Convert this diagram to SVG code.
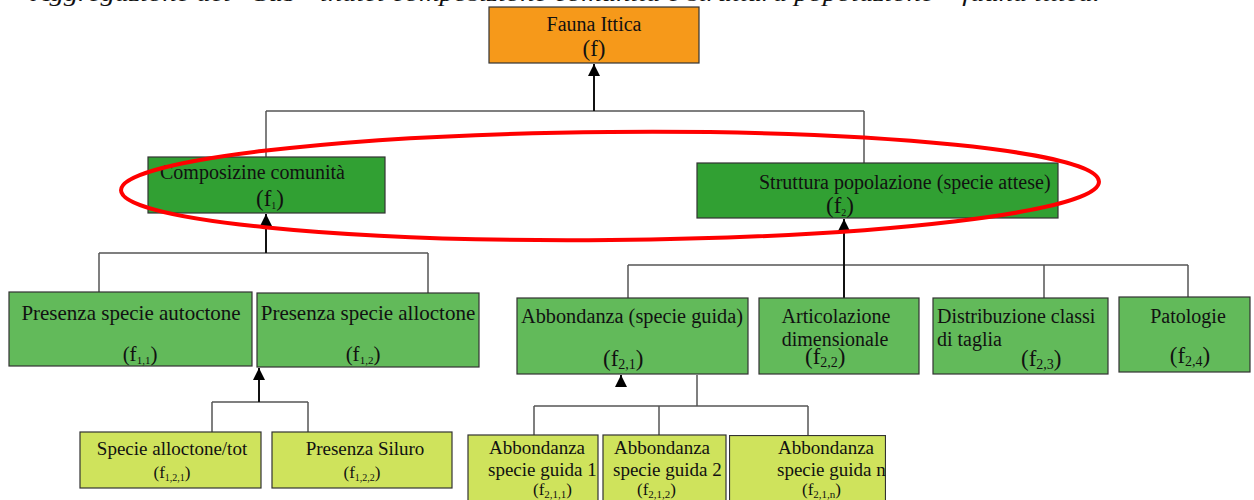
<svg xmlns="http://www.w3.org/2000/svg" width="1254" height="500" viewBox="0 0 1254 500" font-family="'Liberation Serif','DejaVu Serif',serif">
<defs>
<marker id="arr" markerUnits="userSpaceOnUse" markerWidth="12" markerHeight="12" viewBox="0 0 12 12" refX="12" refY="6" orient="auto">
<path d="M0,0 L12,6 L0,12 Z" fill="#000"/>
</marker>
<style>
text{font-family:'Liberation Serif','DejaVu Serif',serif;fill:#111;}
.b{stroke:#333;stroke-width:1.2;}
.or{fill:#F6991A;}
.dg{fill:#31A033;}
.mg{fill:#62BA5A;}
.yg{fill:#CFE35C;}
.t19{font-size:19px;}
.t20{font-size:20px;}
.t21{font-size:21px;}
.c{text-anchor:middle;}
.ln{fill:none;stroke:#555;stroke-width:1.5;}
.ar{fill:none;stroke:#111;stroke-width:2;}
</style>
</defs>
<rect width="1254" height="500" fill="#fff"/>
<text x="32" y="1" font-style="italic" font-size="22" textLength="1068" lengthAdjust="spacingAndGlyphs">Aggregazione dei “Sub” indici composizione comunità e struttura popolazione – fauna ittica.</text>

<g id="connectors">
<path class="ln" d="M266,111 H864 M266,111 V157 M864,111 V163"/>
<path class="ar" d="M594,111 V64" marker-end="url(#arr)"/>
<path class="ln" d="M99,253 H428 M99,253 V292 M428,253 V293"/>
<path class="ar" d="M266,253 V214" marker-end="url(#arr)"/>
<path class="ln" d="M628,265 H1188 M628,265 V298 M1044,265 V298 M1188,265 V297"/>
<path class="ar" d="M844,298 V219" marker-end="url(#arr)"/>
<path class="ln" d="M212,402 H308 M212,402 V432 M308,402 V432"/>
<path class="ar" d="M259,402 V368" marker-end="url(#arr)"/>
<path class="ln" d="M534,406 H808 M534,406 V435 M659,406 V435 M808,406 V435 M697,375 V406"/>
<path class="ar" d="M621,387 V375" marker-end="url(#arr)"/>
</g>

<g id="n_f">
<rect class="b or" x="489" y="7" width="210" height="56"/>
<text class="t20 c" x="594" y="31">Fauna Ittica</text>
<text class="c" x="594" y="56" font-size="23">(f)</text>
</g>

<g id="n_f1">
<rect class="b dg" x="148" y="157" width="237" height="56"/>
<text class="t20" x="160" y="179">Composizine comunità</text>
<text x="256" y="206" font-size="23">(f<tspan font-size="10" dy="3">1</tspan><tspan dy="-3">)</tspan></text>
</g>

<g id="n_f2">
<rect class="b dg" x="697" y="163" width="361" height="55"/>
<text class="t20" x="759" y="189">Struttura popolazione (specie attese)</text>
<text x="826" y="213" font-size="23">(f<tspan font-size="10" dy="3">2</tspan><tspan dy="-3">)</tspan></text>
</g>

<g id="n_f11">
<rect class="b mg" x="9" y="292" width="243" height="74"/>
<text class="t21 c" x="131" y="320">Presenza specie autoctone</text>
<text class="c" x="140" y="361" font-size="21">(f<tspan font-size="11" dy="3">1,1</tspan><tspan dy="-3">)</tspan></text>
</g>

<g id="n_f12">
<rect class="b mg" x="257" y="293" width="222" height="74"/>
<text class="t21 c" x="368" y="320">Presenza specie alloctone</text>
<text class="c" x="363" y="361" font-size="21">(f<tspan font-size="11" dy="3">1,2</tspan><tspan dy="-3">)</tspan></text>
</g>

<g id="n_f121">
<rect class="b yg" x="80" y="432" width="181" height="56"/>
<text class="t19 c" x="172" y="455">Specie alloctone/tot</text>
<text class="c" x="172" y="478" font-size="17">(f<tspan font-size="10" dy="3">1,2,1</tspan><tspan dy="-3">)</tspan></text>
</g>

<g id="n_f122">
<rect class="b yg" x="272" y="432" width="180" height="56"/>
<text class="t19 c" x="365" y="455">Presenza Siluro</text>
<text class="c" x="362" y="478" font-size="17">(f<tspan font-size="10" dy="3">1,2,2</tspan><tspan dy="-3">)</tspan></text>
</g>

<g id="n_f21">
<rect class="b mg" x="517" y="298" width="231" height="76"/>
<text class="t20" x="521" y="323" textLength="222" lengthAdjust="spacingAndGlyphs">Abbondanza (specie guida)</text>
<text x="603" y="366" font-size="23">(f<tspan font-size="14" dy="3">2,1</tspan><tspan dy="-3">)</tspan></text>
</g>

<g id="n_f22">
<rect class="b mg" x="759" y="298" width="160" height="76"/>
<text class="t20 c" x="836" y="323">Articolazione</text>
<text class="t20 c" x="835" y="346">dimensionale</text>
<text x="805" y="364" font-size="23">(f<tspan font-size="14" dy="3">2,2</tspan><tspan dy="-3">)</tspan></text>
</g>

<g id="n_f23">
<rect class="b mg" x="933" y="298" width="175" height="76"/>
<text class="t20" x="937" y="323">Distribuzione classi</text>
<text class="t20" x="937" y="346">di taglia</text>
<text x="1021" y="366" font-size="23">(f<tspan font-size="14" dy="3">2,3</tspan><tspan dy="-3">)</tspan></text>
</g>

<g id="n_f24">
<rect class="b mg" x="1119" y="297" width="131" height="75"/>
<text class="t20 c" x="1188" y="323">Patologie</text>
<text class="c" x="1190" y="363" font-size="23">(f<tspan font-size="14" dy="3">2,4</tspan><tspan dy="-3">)</tspan></text>
</g>

<g id="n_f211">
<rect class="b yg" x="468" y="435" width="130" height="70"/>
<text class="t19" x="489" y="454">Abbondanza</text>
<text class="t19" x="488" y="476">specie guida 1</text>
<text x="533" y="495" font-size="17">(f<tspan font-size="11" dy="3">2,1,1</tspan><tspan dy="-3">)</tspan></text>
</g>

<g id="n_f212">
<rect class="b yg" x="603" y="435" width="123" height="70"/>
<text class="t19" x="614" y="454">Abbondanza</text>
<text class="t19" x="613" y="476">specie guida 2</text>
<text x="637" y="495" font-size="17">(f<tspan font-size="11" dy="3">2,1,2</tspan><tspan dy="-3">)</tspan></text>
</g>

<g id="n_f21n">
<svg x="729" y="435" width="157" height="70" overflow="hidden">
<rect class="b yg" x="0.5" y="0.5" width="156" height="70"/>
<text class="t19" x="49" y="19">Abbondanza</text>
<text class="t19" x="48" y="41">specie guida n</text>
<text x="73" y="60" font-size="17">(f<tspan font-size="11" dy="3">2,1,n</tspan><tspan dy="-3">)</tspan></text>
</svg>
</g>

<ellipse cx="610" cy="186" rx="489" ry="54" transform="rotate(-0.5 610 186)" fill="none" stroke="#F00" stroke-width="4"/>
</svg>
